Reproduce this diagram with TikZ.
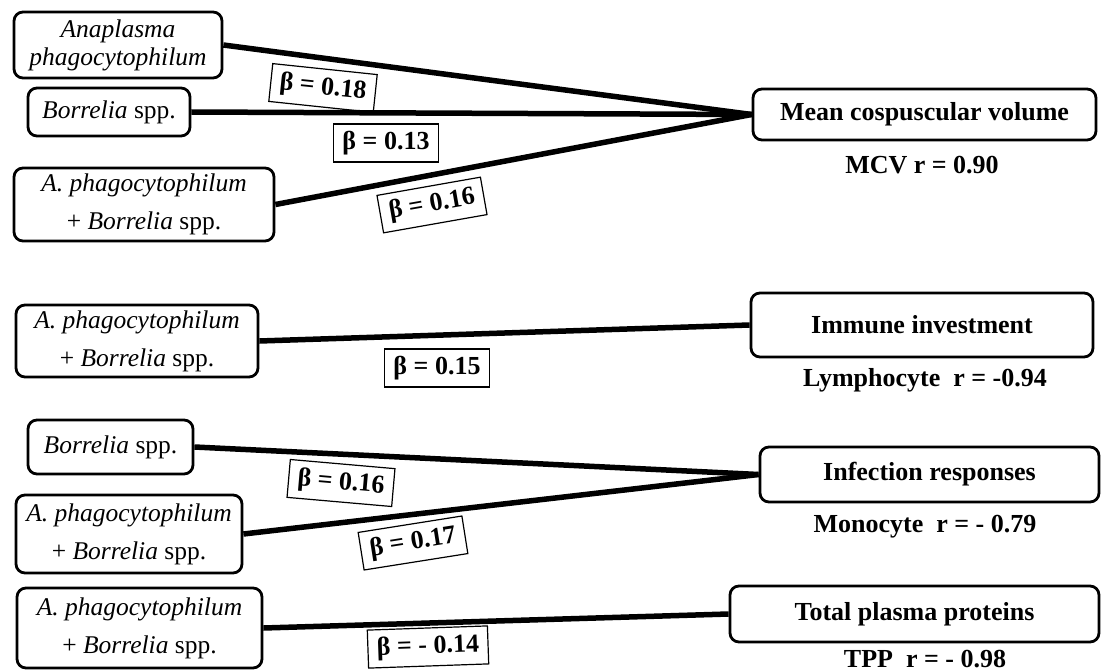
\documentclass[tikz,border=0pt]{standalone}
\usepackage{fontspec}
\setmainfont{Liberation Serif}
\begin{document}
\begin{tikzpicture}[x=1pt,y=-1pt,
  src/.style={draw, line width=2.8pt, rounded corners=9pt, align=center, inner sep=0pt,
    font=\fontsize{25.5}{38}\selectfont},
  tgt/.style={draw, line width=2.8pt, rounded corners=9pt, inner sep=0pt,
    font=\fontsize{26}{28}\selectfont\bfseries},
  beta/.style={draw, line width=1.2pt, inner xsep=9pt, inner ysep=0pt, minimum height=38pt,
    font=\fontsize{26}{28}\selectfont\bfseries},
  corr/.style={inner sep=0pt, font=\fontsize{26}{28}\selectfont\bfseries},
  link/.style={line width=5.5pt}]
\useasboundingbox (0,0) rectangle (1102,671);

% source boxes
\node[src, minimum width=208pt, minimum height=66pt, font=\fontsize{25.5}{28}\selectfont] (L1) at (118,45)
  {\textit{Anaplasma}\\\textit{phagocytophilum}};
\node[src, minimum width=162pt, minimum height=48pt] (L2) at (109,112) {\textit{Borrelia} spp.};
\node[src, minimum width=260pt, minimum height=73pt] (L3) at (144,204.5)
  {\textit{A. phagocytophilum}\\+ \textit{Borrelia} spp.};
\node[src, minimum width=242pt, minimum height=72pt] (L4) at (137,341)
  {\textit{A. phagocytophilum}\\+ \textit{Borrelia} spp.};
\node[src, minimum width=165pt, minimum height=54pt] (L5) at (110.5,447) {\textit{Borrelia} spp.};
\node[src, minimum width=226pt, minimum height=78pt] (L6) at (129,534)
  {\textit{A. phagocytophilum}\\+ \textit{Borrelia} spp.};
\node[src, minimum width=245pt, minimum height=80pt] (L7) at (139.5,628)
  {\textit{A. phagocytophilum}\\+ \textit{Borrelia} spp.};

% target boxes
\node[tgt, minimum width=343pt, minimum height=51pt] (R1) at (924.5,114.5) {Mean cospuscular volume};
\node[tgt, minimum width=342pt, minimum height=64pt] (R2) at (922,325) {Immune investment};
\node[tgt, minimum width=339pt, minimum height=55pt] (R3) at (929.5,474.5) {Infection responses};
\node[tgt, minimum width=369pt, minimum height=56pt] (R4) at (914.5,614) {Total plasma proteins};

% correlation labels
\node[corr] (c1) at (922,165) {MCV r = 0.90};
\node[corr] (c2) at (925,380) {Lymphocyte\ \ r = -0.94};
\node[corr] (c3) at (925,527) {Monocyte\ \ r = - 0.79};
\node[corr] (c4) at (925,659) {TPP\ \ r = - 0.98};

% connectors
\draw[link] (L1.east) -- (R1.west);
\draw[link] (L2.east) -- (R1.west);
\draw[link] (L3.east) -- (R1.west);
\draw[link] (L4.east) -- (R2.west);
\draw[link] (L5.east) -- (R3.west);
\draw[link] (L6.east) -- (R3.west);
\draw[link] (L7.east) -- (R4.west);

% beta labels
\node[beta, rotate=-6] (b1) at (323,88) {β = 0.18};
\node[beta] (b2) at (386,143) {β = 0.13};
\node[beta, rotate=10] (b3) at (432,205) {β = 0.16};
\node[beta] (b4) at (437,368) {β = 0.15};
\node[beta, rotate=-5] (b5) at (341,483) {β = 0.16};
\node[beta, rotate=9] (b6) at (413,543) {β = 0.17};
\node[beta, rotate=2] (b7) at (428,647) {β = - 0.14};
\end{tikzpicture}
\end{document}
